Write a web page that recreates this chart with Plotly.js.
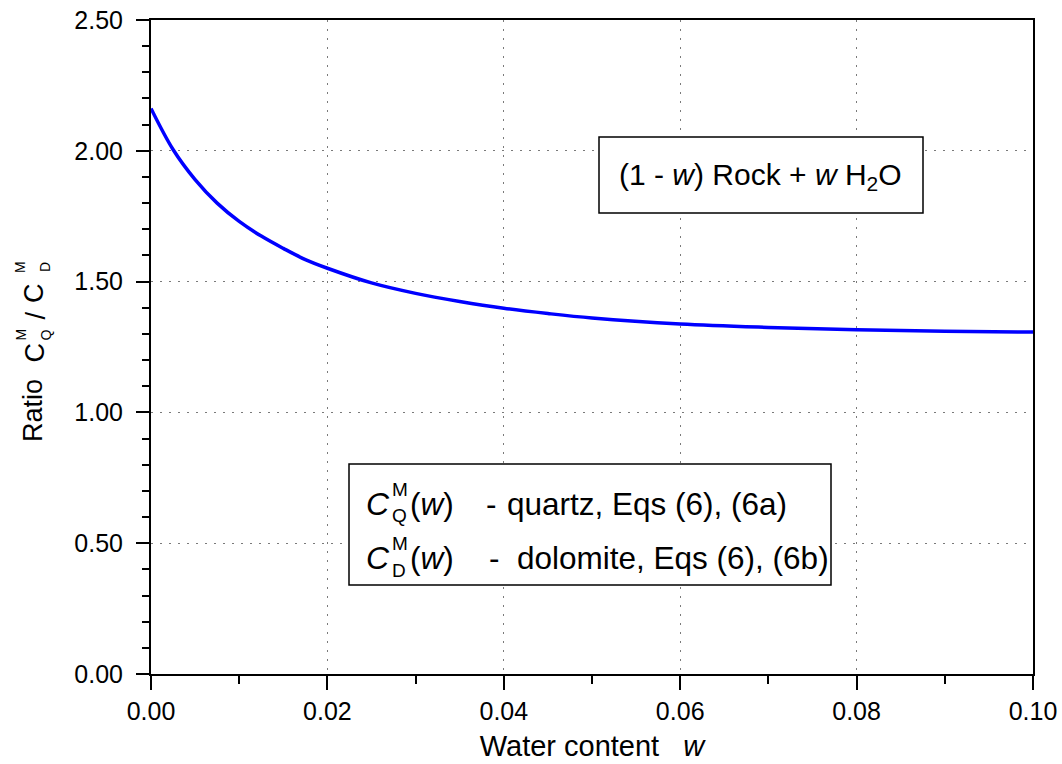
<!DOCTYPE html>
<html>
<head>
<meta charset="utf-8">
<script src="https://cdn.plot.ly/plotly-3.0.1.min.js"></script>
<style>html,body{margin:0;padding:0;background:#fff;}#chart{width:1062px;height:764px;}</style>
</head>
<body>
<div id="chart"></div>
<script>
// Water content w and ratio C_Q^M / C_D^M
const waterContent = [0, 0.0025, 0.005, 0.0075, 0.01, 0.0125, 0.015, 0.0175, 0.02, 0.025, 0.03, 0.035, 0.04, 0.045, 0.05, 0.06, 0.07, 0.08, 0.09, 0.1];
const ratioQD = [2.162, 2.005, 1.890, 1.800, 1.730, 1.674, 1.627, 1.584, 1.551, 1.495, 1.455, 1.424, 1.398, 1.378, 1.361, 1.338, 1.325, 1.316, 1.310, 1.307];
const xTickVals = [0, 0.02, 0.04, 0.06, 0.08, 0.1];
const xTickText = ["0.00", "0.02", "0.04", "0.06", "0.08", "0.10"];
const yTickVals = [0, 0.5, 1.0, 1.5, 2.0, 2.5];
const yTickText = ["0.00", "0.50", "1.00", "1.50", "2.00", "2.50"];

const FONT = "Liberation Sans, Arial, sans-serif";
const NB = '\u00a0';

// plot area in pixels
const L = 151, R = 1033, T = 20, B = 674;
const px = x => (x - L) / (R - L);
const py = y => (B - y) / (B - T);

// text placed in pixel coordinates
function txt(text, x, y, size, xanchor, angle) {
  return {
    xref: 'paper', yref: 'paper', x: px(x), y: py(y),
    xanchor: xanchor || 'left', yanchor: 'middle', align: 'left',
    text: text, showarrow: false, textangle: angle || 0,
    borderpad: 0, borderwidth: 0,
    font: {family: FONT, size: size, color: '#000'}
  };
}

const trace = {
  x: waterContent,
  y: ratioQD,
  mode: 'lines',
  line: {color: '#0000ff', width: 3.5, shape: 'spline', smoothing: 1},
  hoverinfo: 'skip',
  showlegend: false
};

const axisCommon = {
  ticks: 'outside', tickwidth: 2, tickcolor: '#000',
  showline: true, linewidth: 2, linecolor: '#000', mirror: true,
  showgrid: true, gridcolor: '#7a7a7a', gridwidth: 1, griddash: '2px,7px',
  zeroline: false,
  tickfont: {family: FONT, size: 25, color: '#000'}
};

const BIG = 31.5, SM = 19;
const annotations = [
  // y-axis title: Ratio  C^M_Q / C^M_D  (rotated)
  txt('Ratio', 33, 411, 27, 'center', -90),
  txt('C', 34, 352.5, 27, 'center', -90),
  txt('M', 20, 334.5, 14, 'center', -90),
  txt('Q', 45, 335.5, 14, 'center', -90),
  txt('/', 35, 315.5, 27, 'center', -90),
  txt('C', 34, 293, 27, 'center', -90),
  txt('M', 20, 267, 14, 'center', -90),
  txt('D', 45, 267, 14, 'center', -90),
  // box 1
  txt('(1 - <i>w</i>) Rock + <i>w</i> H<sub>2</sub>O', 760, 177, 30, 'center'),
  // box 2, line 1
  txt('<i>C</i>', 366, 503.5, 32),
  txt('M', 392, 489, SM),
  txt('Q', 392, 515.5, SM),
  txt('(<i>w</i>)', 410, 503.5, BIG),
  txt('-', 486, 503.5, BIG),
  txt('quartz, Eqs (6), (6a)', 507, 503.5, BIG),
  // box 2, line 2
  txt('<i>C</i>', 366, 557.5, 32),
  txt('M', 392, 543, SM),
  txt('D', 392, 570, SM),
  txt('(<i>w</i>)', 410, 557.5, BIG),
  txt('-', 489, 557.5, BIG),
  txt('dolomite, Eqs (6), (6b)', 517, 557.5, BIG)
];

const layout = {
  width: 1062, height: 764,
  margin: {l: L, r: 1062 - R, t: T, b: 764 - B},
  paper_bgcolor: '#ffffff', plot_bgcolor: '#ffffff',
  font: {family: FONT, size: 25, color: '#000'},
  showlegend: false,
  xaxis: Object.assign({}, axisCommon, {
    range: [0, 0.1],
    tickvals: xTickVals, ticktext: xTickText,
    ticklen: 14, ticklabelstandoff: 0,
    minor: {dtick: 0.01, tick0: 0, ticks: 'outside', ticklen: 8, tickwidth: 2, tickcolor: '#000', showgrid: false},
    title: {text: 'Water content' + NB + NB + NB + '<i>w</i>', font: {family: FONT, size: 29, color: '#000'}, standoff: 12}
  }),
  yaxis: Object.assign({}, axisCommon, {
    range: [0, 2.5],
    tickvals: yTickVals, ticktext: yTickText,
    ticklen: 13, ticklabelstandoff: 8,
    minor: {dtick: 0.1, tick0: 0, ticks: 'outside', ticklen: 7, tickwidth: 2, tickcolor: '#000', showgrid: false}
  }),
  shapes: [
    {type: 'rect', xref: 'paper', yref: 'paper', x0: px(599), x1: px(923), y0: py(213), y1: py(137),
     line: {color: '#000', width: 1.5}, fillcolor: '#fff', layer: 'above'},
    {type: 'rect', xref: 'paper', yref: 'paper', x0: px(349), x1: px(831), y0: py(585), y1: py(464),
     line: {color: '#000', width: 1.5}, fillcolor: '#fff', layer: 'above'}
  ],
  annotations: annotations
};

Plotly.newPlot('chart', [trace], layout, {staticPlot: true, displayModeBar: false});
</script>
</body>
</html>
